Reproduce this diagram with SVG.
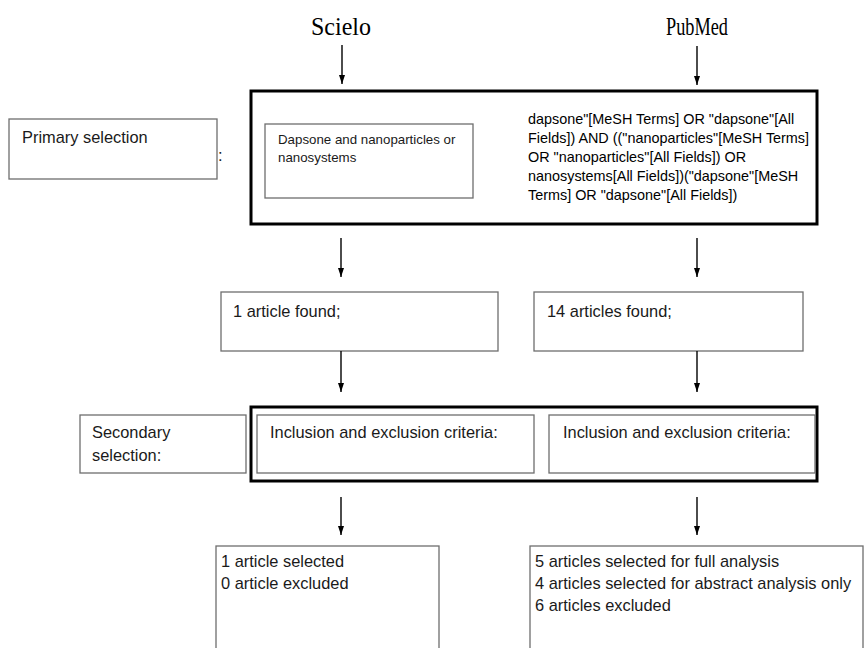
<svg xmlns="http://www.w3.org/2000/svg" width="865" height="648" viewBox="0 0 865 648">
  <style>
    .thin { fill: #ffffff; stroke: #6e6e6e; stroke-width: 1.3; }
    .thick { fill: none; stroke: #000000; stroke-width: 3; }
    .src { font-family: "Liberation Serif", "Times New Roman", serif; font-size: 26px; fill: #000; }
    .lbl { font-family: "Liberation Sans", Arial, sans-serif; font-size: 16.4px; fill: #1a1a1a; }
    .sm { font-family: "Liberation Sans", Arial, sans-serif; font-size: 13.3px; fill: #1a1a1a; }
    .q { font-family: "Liberation Sans", Arial, sans-serif; font-size: 14.4px; fill: #000; }
    .conn { stroke: #000; stroke-width: 1.4; fill: none; }
  </style>
  <defs>
    <marker id="ah" viewBox="0 0 9 6" markerWidth="9" markerHeight="6" refX="9" refY="3" orient="auto" markerUnits="userSpaceOnUse">
      <path d="M0,0 L9,3 L0,6 z" fill="#000"/>
    </marker>
  </defs>
  <rect x="0" y="0" width="865" height="648" fill="#ffffff"/>

  <g id="scielo">
    <text class="src" x="341" y="35" text-anchor="middle" textLength="60" lengthAdjust="spacingAndGlyphs">Scielo</text>
  </g>
  <g id="pubmed">
    <text class="src" x="697" y="35" text-anchor="middle" textLength="62" lengthAdjust="spacingAndGlyphs">PubMed</text>
  </g>

  <g id="primary-label">
    <rect class="thin" x="9" y="119" width="208" height="60"/>
    <text class="lbl" x="22" y="143">Primary selection</text>
    <text class="lbl" x="218" y="161" fill="#666">:</text>
  </g>

  <g id="primary-frame">
    <rect class="thick" x="251" y="91" width="566" height="133"/>
  </g>
  <g id="scielo-query">
    <rect class="thin" x="265" y="124" width="208" height="74"/>
    <text class="sm" x="278" y="144">Dapsone and nanoparticles or</text>
    <text class="sm" x="278" y="162">nanosystems</text>
  </g>
  <g id="pubmed-query">
    <text class="q" x="528" y="124">dapsone"[MeSH Terms] OR "dapsone"[All</text>
    <text class="q" x="528" y="143">Fields]) AND (("nanoparticles"[MeSH Terms]</text>
    <text class="q" x="528" y="162">OR "nanoparticles"[All Fields]) OR</text>
    <text class="q" x="528" y="181">nanosystems[All Fields])("dapsone"[MeSH</text>
    <text class="q" x="528" y="200">Terms] OR "dapsone"[All Fields])</text>
  </g>

  <g id="scielo-found">
    <rect class="thin" x="221" y="292" width="277" height="59"/>
    <text class="lbl" x="233" y="317">1 article found;</text>
  </g>
  <g id="pubmed-found">
    <rect class="thin" x="534" y="292" width="269" height="59"/>
    <text class="lbl" x="547" y="317">14 articles found;</text>
  </g>

  <g id="secondary-label">
    <rect class="thin" x="80" y="415" width="166" height="58"/>
    <text class="lbl" x="92" y="438">Secondary</text>
    <text class="lbl" x="92" y="461">selection:</text>
  </g>
  <g id="secondary-frame">
    <rect class="thick" x="251" y="407" width="566" height="74"/>
  </g>
  <g id="scielo-criteria">
    <rect class="thin" x="257" y="415" width="277" height="58"/>
    <text class="lbl" x="270" y="438">Inclusion and exclusion criteria:</text>
  </g>
  <g id="pubmed-criteria">
    <rect class="thin" x="549" y="415" width="266" height="58"/>
    <text class="lbl" x="563" y="438">Inclusion and exclusion criteria:</text>
  </g>

  <g id="scielo-result">
    <rect class="thin" x="216" y="546" width="223" height="110"/>
    <text class="lbl" x="221" y="567">1 article selected</text>
    <text class="lbl" x="221" y="589">0 article excluded</text>
  </g>
  <g id="pubmed-result">
    <rect class="thin" x="530" y="546" width="333" height="110"/>
    <text class="lbl" x="535" y="567">5 articles selected for full analysis</text>
    <text class="lbl" x="535" y="589">4 articles selected for abstract analysis only</text>
    <text class="lbl" x="535" y="611">6 articles excluded</text>
  </g>

  <g id="connectors">
    <line class="conn" x1="342" y1="45" x2="342" y2="84" marker-end="url(#ah)"/>
    <line class="conn" x1="697" y1="46" x2="697" y2="85" marker-end="url(#ah)"/>
    <line class="conn" x1="341" y1="238" x2="341" y2="277" marker-end="url(#ah)"/>
    <line class="conn" x1="697" y1="238" x2="697" y2="277" marker-end="url(#ah)"/>
    <line class="conn" x1="341" y1="351" x2="341" y2="392" marker-end="url(#ah)"/>
    <line class="conn" x1="697" y1="351" x2="697" y2="392" marker-end="url(#ah)"/>
    <line class="conn" x1="341" y1="497" x2="341" y2="535" marker-end="url(#ah)"/>
    <line class="conn" x1="697" y1="497" x2="697" y2="535" marker-end="url(#ah)"/>
  </g>
</svg>
